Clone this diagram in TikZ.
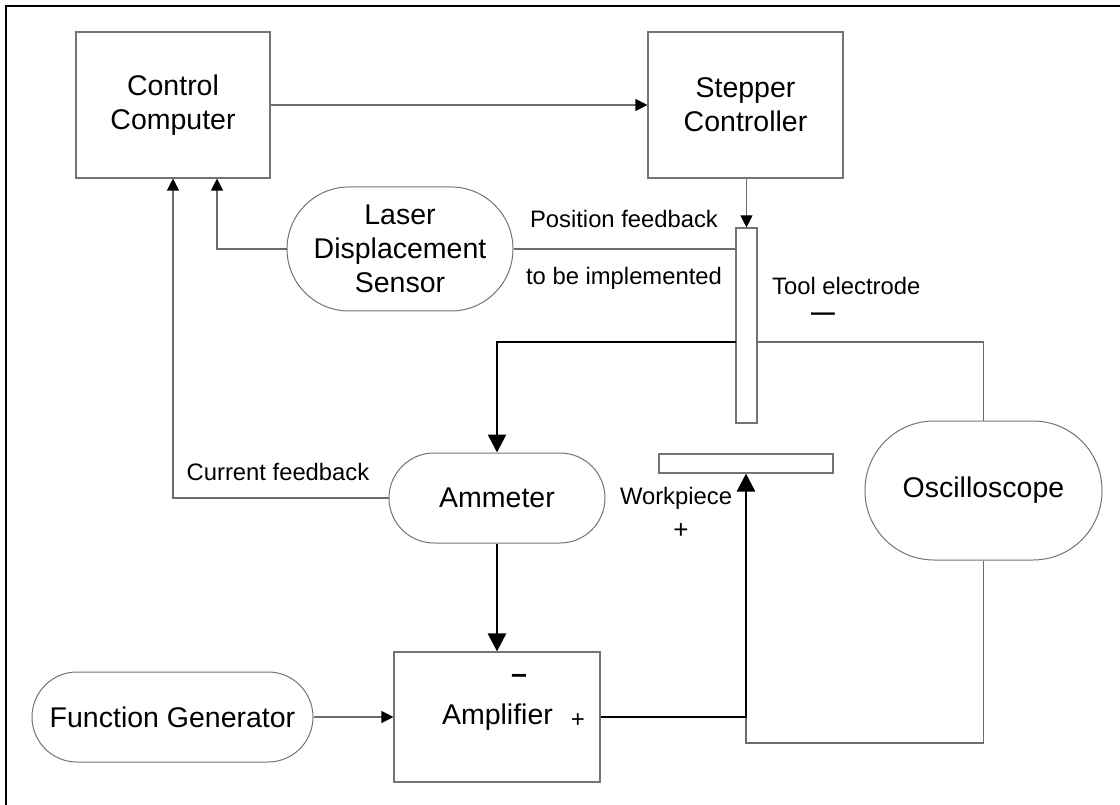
\documentclass[tikz,border=0pt]{standalone}
\usepackage{fontspec}
\setmainfont{Liberation Sans}
\usetikzlibrary{arrows.meta}
\begin{document}
\begin{tikzpicture}[x=1pt,y=-1pt,
  bigtxt/.style={font=\fontsize{28.5}{34}\selectfont, align=center},
  smalltxt/.style={font=\fontsize{23.8}{28}\selectfont, inner sep=0pt},
  boxnode/.style={draw=gray!90!black, line width=1.1pt, rectangle, inner sep=0pt, bigtxt},
  stadium/.style={draw=gray!90!black, line width=1pt, rectangle, inner sep=0pt, bigtxt, rounded corners=#1},
  thinline/.style={draw=gray!85!black, line width=1.1pt},
  thinarrow/.style={thinline, -{Triangle[length=12pt,width=12pt,color=black]}},
  thickline/.style={draw=black, line width=2.8pt},
  thickarrow/.style={thickline, -{Triangle[length=18pt,width=18pt]}}
]
\useasboundingbox (0,0) rectangle (1120,805);
\draw[line width=2.6pt] (6,805) -- (6,6) -- (1120,6);

% nodes
\node[boxnode, minimum width=194pt, minimum height=146pt] (cc) at (173,105) {Control\\Computer};
\node[boxnode, minimum width=195pt, minimum height=146pt] (sc) at (745.5,105) {Stepper\\Controller};
\node[stadium=62pt, minimum width=226pt, minimum height=124pt] (lds) at (400,249) {Laser\\Displacement\\Sensor};
\node[boxnode, minimum width=21pt, minimum height=195pt] (te) at (746.5,325.5) {};
\node[boxnode, minimum width=174pt, minimum height=19pt] (wp) at (746,463.5) {};
\node[stadium=45pt, minimum width=216pt, minimum height=90pt] (am) at (497,498) {Ammeter};
\node[stadium=69pt, minimum width=237pt, minimum height=139pt] (osc) at (983.5,490.5) {Oscilloscope};
\node[boxnode, minimum width=206pt, minimum height=130pt] (amp) at (497,717) {};
\node[stadium=45pt, minimum width=281pt, minimum height=90pt] (fg) at (172.5,717) {Function Generator};

% labels
\node[bigtxt, inner sep=0pt] (amplbl) at (497.5,717) {Amplifier};
\node[font=\fontsize{28.5}{34}\selectfont\bfseries, inner sep=0pt] (ampminus) at (519,679) {–};
\node[font=\fontsize{24}{28}\selectfont, inner sep=0pt] (ampplus) at (578,721) {+};
\node[smalltxt] (pf) at (624,219) {Position feedback};
\node[smalltxt] (tbi) at (624,278) {to be implemented};
\node[font=\fontsize{23.8}{25.5}\selectfont, inner sep=0pt, align=left, anchor=north west] (tel) at (772,277.5) {Tool electrode\\\hspace*{39pt}{\bfseries —}};
\node[smalltxt] (cf) at (278,472) {Current feedback};
\node[smalltxt] (wpl) at (676,498) {Workpiece};
\node[font=\fontsize{26}{28}\selectfont, inner sep=0pt] (wplus) at (681,531) {+};

% coordinates
\coordinate (tw) at (736,342);
\coordinate (tr) at (757,342);
\coordinate (jn) at (746,743);
\coordinate (jc) at (746,717);

% connectors
\draw[thinarrow] (cc.east) -- (sc.west);
\draw[thinarrow] (sc.south -| te.north) -- (te.north);
\draw[thinarrow] (lds.west) -| ([xshift=44pt]cc.south);
\draw[thinline] (lds.east) -- (lds.east -| te.west);
\draw[thickarrow] (tw) -| (am.north);
\draw[thinline] (tr) -| (osc.north);
\draw[thinarrow] (am.west) -| (cc.south);
\draw[thickarrow] (am.south) -- (amp.north);
\draw[thinarrow] (fg.east) -- (amp.west);
\draw[thinline] (osc.south) |- (jn) -- (jc);
\draw[thickarrow] (amp.east) -| (wp.south);
\end{tikzpicture}
\end{document}
